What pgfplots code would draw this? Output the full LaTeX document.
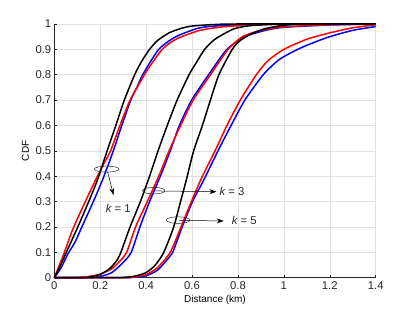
\documentclass[border=0pt]{standalone}
\usepackage{fontspec}
\setmainfont{Liberation Sans}
\usepackage{pgfplots}
\pgfplotsset{compat=1.18}
\usetikzlibrary{arrows.meta}
\definecolor{axgray}{RGB}{38,38,38}
\definecolor{gridgray}{RGB}{225,225,225}
\begin{document}
\begin{tikzpicture}
\useasboundingbox (-54.3pt,-34.3pt) rectangle (360.7pt,277.7pt);
\begin{axis}[
  at={(0pt,0pt)}, anchor=south west,
  scale only axis, width=321.4pt, height=253.7pt,
  xmin=0, xmax=1.4, ymin=0, ymax=1,
  axis x line*=bottom, axis y line*=left,
  axis line style={-, axgray, line width=0.5pt},
  tick pos=left, tick align=inside,
  major tick length=3pt,
  tick style={axgray, line width=0.5pt},
  xtick={0,0.2,0.4,0.6,0.8,1,1.2,1.4},
  ytick={0,0.1,0.2,0.3,0.4,0.5,0.6,0.7,0.8,0.9,1},
  grid=major, major grid style={gridgray, line width=0.5pt},
  /pgf/number format/assume math mode=true,
  ticklabel style={font=\fontsize{11.3}{13}\selectfont, text=axgray},
  yticklabel style={xshift=0.5pt},
  xlabel={Distance (km)}, ylabel={CDF},
  label style={font=\fontsize{12.5}{14}\selectfont, text=axgray},
  every axis x label/.style={at={(axis description cs:0.5,-0.088)}, anchor=center},
  every axis y label/.style={at={(axis description cs:-0.09,0.5)}, rotate=90, anchor=center},
  clip=false,
  every axis plot/.append style={line width=1.5pt, smooth, tension=0.4},
]
% k = 1
\addplot[blue] coordinates {(0,0)(0.03,0.04)(0.06,0.095)(0.09,0.14)(0.12,0.2)(0.17,0.3)(0.212,0.39)(0.257,0.5)(0.294,0.6)(0.333,0.7)(0.36,0.75)(0.385,0.8)(0.455,0.9)(0.53,0.95)(0.634,0.985)(0.75,0.995)(0.9,0.999)(1.4,1)};
\addplot[red] coordinates {(0,0)(0.02,0.045)(0.04,0.09)(0.08,0.19)(0.135,0.3)(0.185,0.395)(0.21,0.44)(0.245,0.5)(0.286,0.6)(0.33,0.7)(0.37,0.765)(0.41,0.825)(0.47,0.9)(0.53,0.94)(0.634,0.975)(0.75,0.99)(0.9,0.997)(1.1,1)(1.4,1)};
\addplot[black] coordinates {(0,0)(0.02,0.035)(0.05,0.095)(0.1,0.195)(0.15,0.3)(0.19,0.39)(0.23,0.5)(0.268,0.6)(0.305,0.7)(0.35,0.8)(0.38,0.852)(0.415,0.9)(0.45,0.935)(0.5,0.965)(0.55,0.982)(0.6,0.992)(0.7,0.998)(0.8,1)(1.4,1)};
% k = 3
\addplot[blue] coordinates {(0,0)(0.15,0.001)(0.2,0.005)(0.25,0.02)(0.3,0.06)(0.335,0.1)(0.373,0.2)(0.415,0.3)(0.462,0.4)(0.505,0.5)(0.545,0.6)(0.598,0.7)(0.672,0.8)(0.752,0.9)(0.83,0.95)(0.92,0.975)(1.0,0.987)(1.2,0.996)(1.4,1)};
\addplot[red] coordinates {(0,0)(0.1,0.001)(0.15,0.005)(0.2,0.014)(0.25,0.035)(0.28,0.06)(0.315,0.1)(0.354,0.2)(0.405,0.3)(0.455,0.4)(0.50,0.5)(0.55,0.6)(0.605,0.7)(0.68,0.8)(0.757,0.9)(0.82,0.95)(0.9,0.975)(1.0,0.989)(1.2,0.997)(1.4,1)};
\addplot[black] coordinates {(0,0)(0.1,0)(0.15,0.002)(0.2,0.013)(0.24,0.035)(0.27,0.065)(0.29,0.1)(0.33,0.2)(0.375,0.3)(0.415,0.4)(0.452,0.5)(0.492,0.6)(0.535,0.7)(0.587,0.8)(0.62,0.85)(0.655,0.9)(0.7,0.94)(0.78,0.98)(0.85,0.993)(0.95,0.999)(1.05,1)(1.4,1)};
% k = 5
\addplot[blue] coordinates {(0,0)(0.3,0)(0.35,0.002)(0.4,0.008)(0.45,0.03)(0.5,0.08)(0.516,0.1)(0.557,0.2)(0.602,0.3)(0.651,0.385)(0.713,0.5)(0.77,0.6)(0.83,0.7)(0.91,0.8)(0.98,0.86)(1.06,0.9)(1.13,0.927)(1.2,0.95)(1.3,0.975)(1.4,0.99)};
\addplot[red] coordinates {(0,0)(0.3,0)(0.35,0.003)(0.4,0.012)(0.45,0.04)(0.505,0.1)(0.552,0.2)(0.597,0.3)(0.64,0.39)(0.70,0.5)(0.752,0.6)(0.81,0.7)(0.88,0.8)(0.93,0.855)(1.0,0.9)(1.1,0.94)(1.2,0.965)(1.3,0.985)(1.4,0.997)};
\addplot[black] coordinates {(0,0)(0.25,0)(0.3,0.001)(0.35,0.006)(0.4,0.02)(0.44,0.05)(0.477,0.1)(0.52,0.2)(0.55,0.3)(0.575,0.385)(0.607,0.5)(0.645,0.6)(0.68,0.7)(0.717,0.8)(0.775,0.9)(0.81,0.935)(0.86,0.962)(0.92,0.982)(1.0,0.995)(1.1,1)(1.4,1)};
% annotations
\draw[axgray, line width=0.5pt] (axis cs:0.228,0.428) ellipse [x radius=12.3pt, y radius=3pt];
\draw[black, line width=0.5pt, -{Stealth[length=7pt,width=5pt]}] (axis cs:0.232,0.418) -- (axis cs:0.258,0.326);
\node[font=\fontsize{11.3}{13}\selectfont, text=axgray] at (axis cs:0.279,0.273) {{\itshape k} = 1};
\draw[axgray, line width=0.5pt] (axis cs:0.433,0.343) ellipse [x radius=11.2pt, y radius=3.3pt];
\draw[black, line width=0.5pt, -{Stealth[length=7pt,width=5pt]}] (axis cs:0.44,0.342) -- (axis cs:0.706,0.339);
\node[font=\fontsize{11.3}{13}\selectfont, text=axgray, anchor=west, inner sep=0pt] at (axis cs:0.719,0.34) {{\itshape k} = 3};
\draw[axgray, line width=0.5pt] (axis cs:0.539,0.227) ellipse [x radius=11.7pt, y radius=3.3pt];
\draw[black, line width=0.5pt, -{Stealth[length=7pt,width=5pt]}] (axis cs:0.545,0.226) -- (axis cs:0.738,0.2235);
\node[font=\fontsize{11.3}{13}\selectfont, text=axgray, anchor=west, inner sep=0pt] at (axis cs:0.773,0.224) {{\itshape k} = 5};
\end{axis}
\end{tikzpicture}
\end{document}
